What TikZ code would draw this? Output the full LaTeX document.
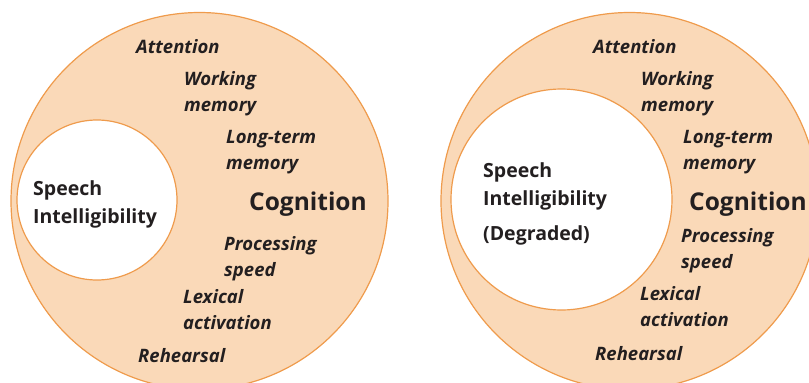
\documentclass[tikz,border=0pt]{standalone}
\usepackage{fontspec}
\setmainfont{Open Sans}
\definecolor{ringfill}{HTML}{FAD9B8}
\definecolor{ringline}{HTML}{EF9B4C}
\definecolor{ink}{HTML}{231F20}
\begin{document}
\begin{tikzpicture}[x=1pt,y=-1pt,
  ring/.style={circle, draw=ringline, line width=1.2pt, fill=ringfill, inner sep=0pt},
  core/.style={circle, draw=ringline, line width=1.2pt, fill=white, inner sep=0pt},
  % two-line labels are anchored at the baseline of their last line
  factor/.style={font=\fontsize{18.5}{25.5}\selectfont\bfseries\itshape, text=ink,
    anchor=base west, inner sep=0pt, align=left},
  headline/.style={font=\fontsize{24.5}{28}\selectfont\bfseries, text=ink,
    anchor=base west, inner sep=0pt},
  sitext/.style={font=\fontsize{19.5}{27.5}\selectfont\bfseries, text=ink,
    anchor=base west, inner sep=0pt, align=left}
]
\useasboundingbox (0,0) rectangle (809,383);
\clip (0,0) rectangle (809,383);

% left: normal listening
\node[ring, minimum size=377pt] (cogL) at (199.5,201) {};
\node[core, minimum size=160pt] (siL) at (97,200) {};
\node[sitext] (siLt) at (33,223) {Speech\\Intelligibility};
\node[headline] (cgL) at (249,210) {Cognition};
\node[factor] (atL) at (136,53) {Attention};
\node[factor] (wmL) at (184,111) {Working\\memory};
\node[factor] (ltL) at (226,169) {Long-term\\memory};
\node[factor] (psL) at (224,276) {Processing\\speed};
\node[factor] (lxL) at (183,329) {Lexical\\activation};
\node[factor] (rhL) at (138,362) {Rehearsal};

% right: degraded listening
\node[ring, minimum size=377pt] (cogR) at (629.5,201) {};
\node[core, minimum size=221pt] (siR) at (561.5,199.5) {};
\node[sitext] (siRt) at (483,205) {Speech\\Intelligibility};
\node[sitext] (dgR) at (483,240) {(Degraded)};
\node[headline] (cgR) at (689,210) {Cognition};
\node[factor] (atR) at (593,53) {Attention};
\node[factor] (wmR) at (641,111) {Working\\memory};
\node[factor] (ltR) at (683,169) {Long-term\\memory};
\node[factor] (psR) at (681,268) {Processing\\speed};
\node[factor] (lxR) at (640,326) {Lexical\\activation};
\node[factor] (rhR) at (595,360) {Rehearsal};
\end{tikzpicture}
\end{document}
